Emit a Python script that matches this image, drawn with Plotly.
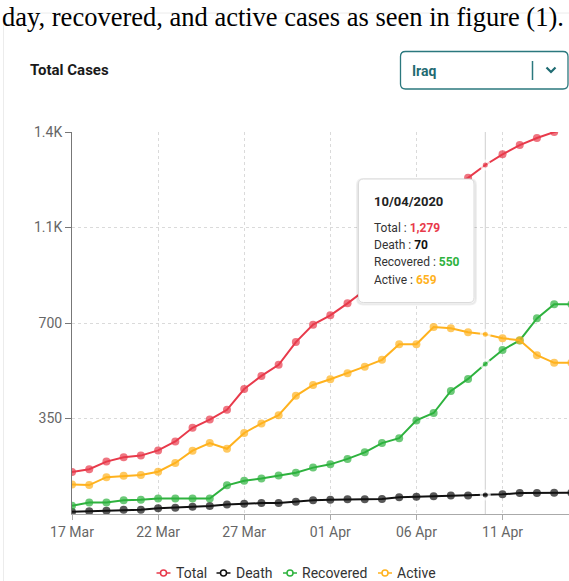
import plotly.graph_objects as go
import pandas as pd

# ---------------- data ----------------
dates = pd.date_range("2020-03-17", "2020-04-15", freq="D").strftime("%Y-%m-%d").tolist()
total = [154, 164, 192, 208, 214, 233, 266, 316, 346, 382, 458, 506, 547, 630, 694,
         728, 772, 820, 880, 961, 1028, 1120, 1200, 1232, 1279, 1318, 1352, 1378, 1400, 1415]
death = [8, 10, 12, 16, 16, 21, 23, 27, 29, 35, 38, 40, 40, 45, 50,
         52, 54, 54, 55, 61, 63, 65, 68, 68, 70, 72, 77, 77, 78, 78]
recovered = [30, 42, 42, 50, 52, 57, 57, 57, 57, 105, 122, 130, 141, 151, 170,
             182, 202, 226, 260, 278, 343, 370, 451, 495, 550, 601, 636, 717, 769, 769]
active = [108, 106, 135, 140, 143, 155, 187, 232, 260, 239, 297, 332, 362, 433, 473,
          494, 516, 540, 565, 622, 622, 685, 681, 666, 659, 644, 637, 582, 554, 554]
series_names = ["Total", "Death", "Recovered", "Active"]
series_values = [total, death, recovered, active]
series_colors = ["#e83a4b", "#111111", "#2eb23e", "#ffb21e"]
y_tickvals = [350, 700, 1050, 1400]
y_ticktext = ["350", "700", "1.1K", "1.4K"]
hover_date = "2020-04-10"
hover_label = "10/04/2020"
country = "Iraq"
title_text = "Total Cases"
top_text = "day, recovered, and active cases as seen in figure (1)."

# ---------------- geometry helpers ----------------
W, H = 569, 581
ML, MR, MT, MB = 72, 0, 132, 67
PW, PH = W - ML - MR, H - MT - MB


def px(x):
    return (x - ML) / PW


def py(y):
    return (H - MB - y) / PH


def rrect(x0, y0, x1, y1, r):
    pts = [
        f"M{px(x0 + r)},{py(y0)}",
        f"L{px(x1 - r)},{py(y0)}",
        f"Q{px(x1)},{py(y0)} {px(x1)},{py(y0 + r)}",
        f"L{px(x1)},{py(y1 - r)}",
        f"Q{px(x1)},{py(y1)} {px(x1 - r)},{py(y1)}",
        f"L{px(x0 + r)},{py(y1)}",
        f"Q{px(x0)},{py(y1)} {px(x0)},{py(y1 - r)}",
        f"L{px(x0)},{py(y0 + r)}",
        f"Q{px(x0)},{py(y0)} {px(x0 + r)},{py(y0)}",
        "Z",
    ]
    return " ".join(pts)


hi = dates.index(hover_date)
n = len(dates)
sizes = [8] * n
lw = [0] * n
lw[hi] = 3

fig = go.Figure()
for name, vals, col in zip(series_names, series_values, series_colors):
    fig.add_trace(go.Scatter(
        x=dates, y=vals, name=name, mode="lines+markers",
        line=dict(color=col, width=2),
        marker=dict(color=col, size=sizes, line=dict(color="white", width=lw)),
        showlegend=False, hoverinfo="skip",
    ))

font_fam = "Roboto, Arial, sans-serif"
shapes = []
# card border
shapes.append(dict(type="path", xref="paper", yref="paper",
                   path=rrect(3.5, 13, 640, 640, 7),
                   line=dict(color="#ececec", width=1), fillcolor="rgba(0,0,0,0)", layer="below"))
# dropdown
shapes.append(dict(type="path", xref="paper", yref="paper",
                   path=rrect(400.5, 51.5, 568, 89, 5),
                   line=dict(color="#2b787e", width=1.3), fillcolor="rgba(0,0,0,0)"))
shapes.append(dict(type="line", xref="paper", yref="paper",
                   x0=px(532.5), x1=px(532.5), y0=py(61), y1=py(80),
                   line=dict(color="#2b787e", width=1.5)))
shapes.append(dict(type="path", xref="paper", yref="paper",
                   path=f"M{px(546.5)},{py(67.5)} L{px(551)},{py(72)} L{px(555.5)},{py(67.5)}",
                   line=dict(color="#1f6b72", width=2.2)))
# hover line
shapes.append(dict(type="line", xref="x", yref="paper", x0=hover_date, x1=hover_date, y0=0, y1=1,
                   line=dict(color="#cfcfcf", width=1), layer="below"))
# tooltip shadow + box
shapes.append(dict(type="path", xref="paper", yref="paper",
                   path=rrect(357, 179, 476, 304.5, 6),
                   line=dict(color="rgba(0,0,0,0.06)", width=2), fillcolor="rgba(0,0,0,0.04)", layer="above"))
shapes.append(dict(type="path", xref="paper", yref="paper",
                   path=rrect(358.5, 179, 474, 302.5, 5),
                   line=dict(color="#dadada", width=1), fillcolor="white", layer="above"))

annotations = []
annotations.append(dict(xref="paper", yref="paper", x=px(0), y=py(17), xanchor="left", yanchor="middle",
                        text=top_text, showarrow=False,
                        font=dict(family="Liberation Serif, Times New Roman, serif", size=26.5, color="#000")))
annotations.append(dict(xref="paper", yref="paper", x=px(28), y=py(70), xanchor="left", yanchor="middle",
                        text=f"<b>{title_text}</b>", showarrow=False,
                        font=dict(family=font_fam, size=15, color="#1a1a1a")))
annotations.append(dict(xref="paper", yref="paper", x=px(410), y=py(70.5), xanchor="left", yanchor="middle",
                        text=f"<b>{country}</b>", showarrow=False,
                        font=dict(family=font_fam, size=14, color="#1f6b72")))
# tooltip text
annotations.append(dict(xref="paper", yref="paper", x=px(372), y=py(201), xanchor="left", yanchor="middle",
                        text=f"<b>{hover_label}</b>", showarrow=False,
                        font=dict(family=font_fam, size=13, color="#222")))
for k, (name, vals, col) in enumerate(zip(series_names, series_values, series_colors)):
    annotations.append(dict(
        xref="paper", yref="paper", x=px(372), y=py(227.5 + 17.4 * k), xanchor="left", yanchor="middle",
        text=f"{name} : <b><span style='color:{col}'>{vals[hi]:,}</span></b>", showarrow=False,
        font=dict(family=font_fam, size=12, color="#333")))

# legend (compact symbols: line - open circle - line)
legend_sym_cx = [163.5, 223.5, 290, 385]
legend_y = 573
for name, col, cx in zip(series_names, series_colors, legend_sym_cx):
    shapes.append(dict(type="line", xref="paper", yref="paper",
                       x0=px(cx - 7), x1=px(cx + 7), y0=py(legend_y), y1=py(legend_y),
                       line=dict(color=col, width=1.5)))
    shapes.append(dict(type="circle", xref="paper", yref="paper",
                       x0=px(cx - 3), x1=px(cx + 3), y0=py(legend_y + 3), y1=py(legend_y - 3),
                       line=dict(color=col, width=1.5), fillcolor="white"))
    annotations.append(dict(xref="paper", yref="paper", x=px(cx + 10), y=py(legend_y),
                            xanchor="left", yanchor="middle", text=name, showarrow=False,
                            font=dict(family=font_fam, size=14, color="#333")))

fig.update_layout(
    width=W, height=H,
    margin=dict(l=ML, r=MR, t=MT, b=MB),
    paper_bgcolor="white", plot_bgcolor="white",
    font=dict(family=font_fam, size=14, color="#666"),
    showlegend=False,
    xaxis=dict(type="date", range=["2020-03-17", "2020-04-14 20:40"],
               tick0="2020-03-17", dtick=5 * 86400000, tickformat="%d %b",
               ticks="outside", ticklen=5, tickcolor="#aaa",
               showline=True, linecolor="#aaa", linewidth=1,
               showgrid=True, gridcolor="#dadada", griddash="dot", gridwidth=1,
               zeroline=False, tickfont=dict(size=14, color="#666")),
    yaxis=dict(range=[0, 1400], tickvals=y_tickvals, ticktext=y_ticktext,
               ticks="outside", ticklen=6, tickcolor="#777",
               showline=True, linecolor="#777", linewidth=1,
               showgrid=True, gridcolor="#dadada", griddash="dot", gridwidth=1,
               zeroline=False, tickfont=dict(size=14, color="#666")),
    shapes=shapes, annotations=annotations,
    hovermode=False,
)

fig.write_html("out.html", config={"displayModeBar": False, "staticPlot": True},
               post_script="document.body.style.margin='0';document.body.style.padding='0';")
